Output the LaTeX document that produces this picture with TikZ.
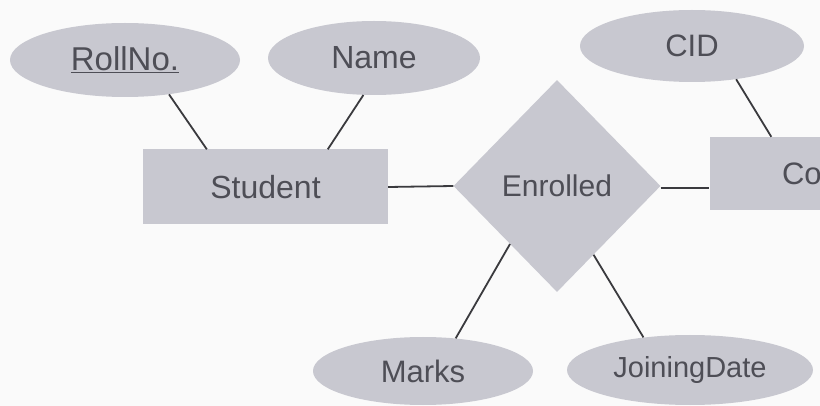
\documentclass[tikz,border=0pt]{standalone}
\usepackage{fontspec}
\setmainfont{Liberation Sans}
\usetikzlibrary{shapes.geometric}
\definecolor{shapefill}{RGB}{200,200,208}
\definecolor{txt}{RGB}{78,78,86}
\definecolor{ln}{RGB}{58,58,62}
\definecolor{bg}{RGB}{250,250,250}
\begin{document}
\begin{tikzpicture}[x=1pt,y=-1pt,
  attr/.style={ellipse, fill=shapefill, inner sep=0pt, text=txt},
  ent/.style={rectangle, fill=shapefill, inner sep=0pt, text=txt},
  rel/.style={diamond, fill=shapefill, inner sep=0pt, text=txt},
  conn/.style={draw=ln, line width=1.8pt}]
\useasboundingbox (0,0) rectangle (820,406);
\clip (0,0) rectangle (820,406);
\fill[bg] (0,0) rectangle (820,406);
% attributes
\node[attr, minimum width=230pt, minimum height=74pt, font=\fontsize{33}{38}\selectfont] (roll) at (125,60) {\underline{RollNo.}};
\node[attr, minimum width=212pt, minimum height=74pt, font=\fontsize{32}{38}\selectfont] (name) at (374,58) {Name};
\node[attr, minimum width=224pt, minimum height=72pt, font=\fontsize{31}{38}\selectfont] (cid) at (692,46) {CID};
\node[attr, minimum width=220pt, minimum height=68pt, font=\fontsize{31}{38}\selectfont] (marks) at (423,371) {Marks};
\node[attr, minimum width=246pt, minimum height=70pt, font=\fontsize{29}{36}\selectfont] (jdate) at (690,370) {JoiningDate};
% entities
\node[ent, minimum width=245pt, minimum height=75pt, font=\fontsize{32}{38}\selectfont] (stu) at (265.5,187) {Student};
\node[ent, minimum width=245pt, minimum height=73pt, font=\fontsize{31}{38}\selectfont] (crs) at (832,173.5) {Course};
% relationship
\node[rel, minimum width=207pt, minimum height=212pt, font=\fontsize{30}{36}\selectfont] (enr) at (557,186) {Enrolled};
% connectors
\draw[conn] (roll.-38.6) -- ([xshift=64pt]stu.north west);
\draw[conn] (name.-106.6) -- ([xshift=185pt]stu.north west);
\draw[conn] (stu.east) -- (enr.west);
\draw[conn] ([yshift=-2pt]enr.east) -- ([yshift=-2pt]enr.east -| crs.west);
\draw[conn] (cid.-37.7) -- ([xshift=62pt]crs.north west);
\draw[conn] (enr.-129) -- (marks.45);
\draw[conn] (enr.-62) -- (jdate.145.5);
\end{tikzpicture}
\end{document}
